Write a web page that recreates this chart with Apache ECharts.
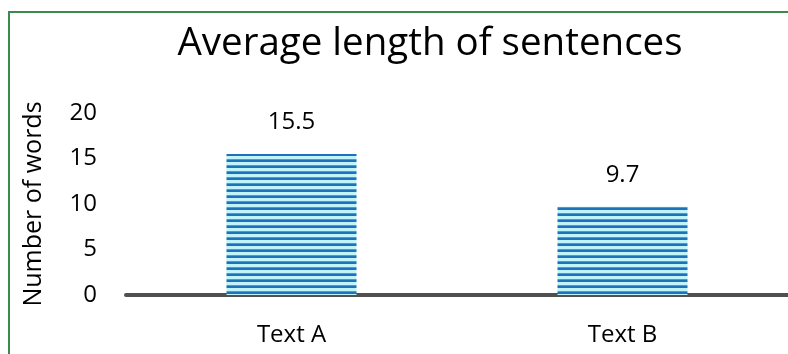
<!DOCTYPE html>
<html>
<head>
<meta charset="utf-8">
<script src="https://cdn.jsdelivr.net/npm/echarts@6/dist/echarts.min.js"></script>
<style>html,body{margin:0;padding:0;background:#fff;}#c{width:788px;height:354px;}</style>
</head>
<body>
<div id="c"></div>
<script>
var categories = ['Text A', 'Text B'];
var values = [15.5, 9.7];
var yTicks = [0, 5, 10, 15, 20];

var pc = document.createElement('canvas');
pc.width = 6; pc.height = 6;
var g = pc.getContext('2d');
g.fillStyle = '#c0f4f8'; g.fillRect(0, 0, 6, 6);
g.fillStyle = '#4b9ad6'; g.fillRect(0, 3, 6, 1);
g.fillStyle = '#1d71bd'; g.fillRect(0, 4, 6, 2);

var FONT = 'Open Sans';
var chart = echarts.init(document.getElementById('c'), null, {renderer: 'canvas'});
chart.setOption({
  animation: false,
  backgroundColor: '#ffffff',
  title: {
    text: 'Average length of sentences',
    left: 425, textAlign: 'center', top: 20,
    textStyle: {fontFamily: FONT, fontSize: 38.5, fontWeight: 'normal', color: '#000'}
  },
  graphic: [{
    type: 'rect', silent: true, z: 100,
    shape: {x: 9, y: 12, width: 820, height: 400},
    style: {fill: 'none', stroke: '#3b8a4f', lineWidth: 2}
  }],
  grid: {left: 126, top: 113, width: 670, height: 182, containLabel: false},
  xAxis: {
    type: 'category', data: categories,
    axisLine: {lineStyle: {color: '#505050', width: 4}},
    axisTick: {show: false},
    axisLabel: {fontFamily: FONT, fontSize: 24, color: '#000', margin: 28}
  },
  yAxis: {
    type: 'value', min: yTicks[0], max: yTicks[yTicks.length - 1], interval: 5,
    name: 'Number of words', nameLocation: 'middle', nameGap: 80, nameRotate: 90,
    nameTextStyle: {fontFamily: FONT, fontSize: 25, color: '#000'},
    axisLine: {show: false}, axisTick: {show: false}, splitLine: {show: false},
    axisLabel: {fontFamily: FONT, fontSize: 24, color: '#000', margin: 29}
  },
  series: [{
    type: 'bar', data: values, barWidth: 130,
    itemStyle: {color: {image: pc, repeat: 'repeat'}},
    label: {show: true, position: 'top', distance: 20, fontFamily: FONT, fontSize: 24, color: '#000'}
  }]
});
</script>
</body>
</html>
